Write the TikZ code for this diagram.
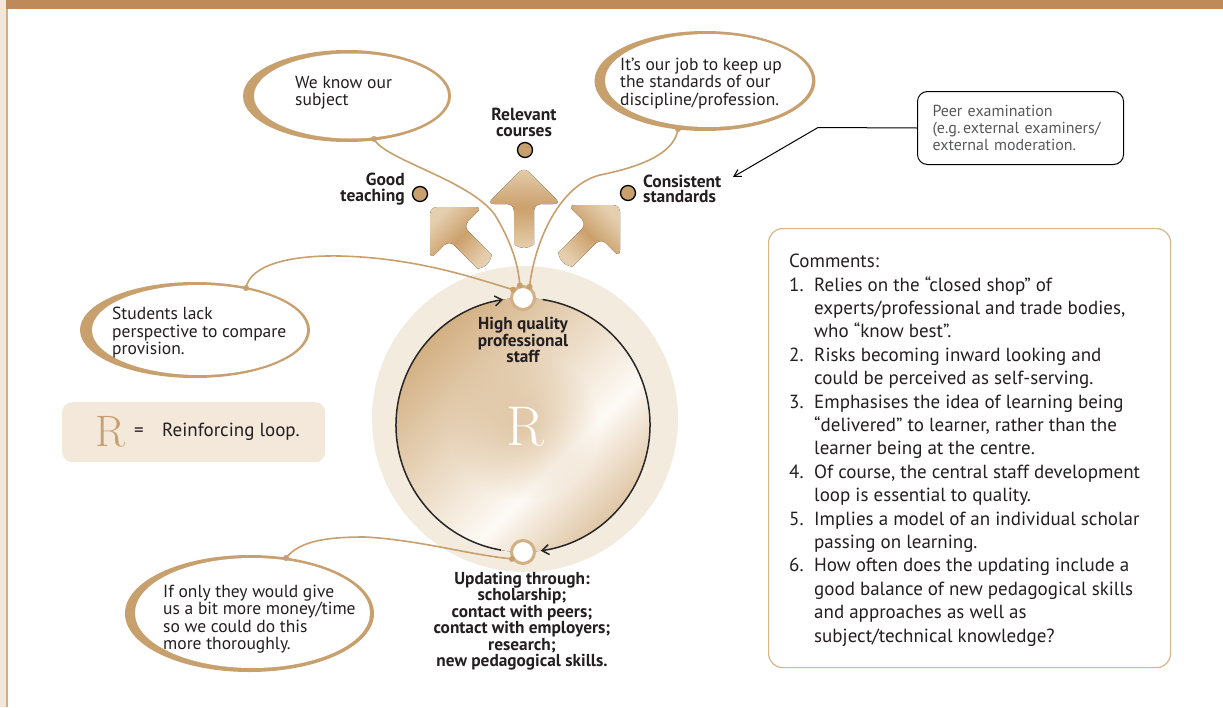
\documentclass[tikz,border=0pt]{standalone}
\usepackage{fontspec}
\newfontfamily\sansfont{PT Sans}
\usetikzlibrary{shapes.geometric,arrows.meta,fadings}

\definecolor{tan}{HTML}{C8A06E}
\definecolor{nodering}{HTML}{D3AF84}
\definecolor{barbrown}{HTML}{BE8A5A}
\definecolor{stripbeige}{HTML}{F1E7DB}
\definecolor{stripline}{HTML}{D6AD82}
\definecolor{discbeige}{HTML}{F4EBDF}
\definecolor{keybeige}{HTML}{F3E8DA}
\definecolor{boxline}{HTML}{D9B58A}
\definecolor{inkdark}{HTML}{231F20}
\definecolor{inkgrey}{HTML}{58595B}
\definecolor{arrowlight}{HTML}{E5CEAD}
\definecolor{arrowdark}{HTML}{CBA06C}
\definecolor{loopA}{HTML}{D9BA90}
\definecolor{loopB}{HTML}{D2AE80}
\definecolor{loopC}{HTML}{FDFAF5}

\pgfdeclarehorizontalshading{loopfill}{100bp}{color(0bp)=(loopA); color(24bp)=(loopB); color(60bp)=(loopC); color(82bp)=(loopB); color(100bp)=(loopA)}
\tikzfading[name=centreglow, inner color=transparent!45, outer color=transparent!100]

\newcommand\cmtnum[1]{\makebox[25pt][l]{#1}}
\newcommand\cmtind{\hspace*{25pt}}

\begin{document}
\begin{tikzpicture}[x=1pt,y=-1pt,
  bubbletext/.style={font=\sansfont\fontsize{17.5}{17.5}\selectfont, text=inkdark, align=left, inner sep=0, anchor=west},
  boldlabel/.style={font=\sansfont\bfseries\fontsize{17.5}{15.5}\selectfont, text=inkdark, inner sep=0},
  labeldot/.style={circle, fill=tan, draw=black, line width=1.3pt, minimum size=15pt, inner sep=0},
  stocknode/.style={circle, fill=white, draw=nodering, line width=3pt, minimum size=23pt, inner sep=0},
  link/.style={draw=tan, line width=1.6pt},
  fatarrow/.style={top color=arrowlight, bottom color=arrowlight, middle color=arrowdark, draw=none, rounded corners=7pt},
  looparc/.style={draw=black!85, line width=1.5pt, -{Straight Barb[length=7pt,width=10pt]}},
]
\useasboundingbox (0,0) rectangle (1223,707);
\fill[white] (0,0) rectangle (1223,707);

% page frame
\fill[stripbeige] (0,0) rectangle (6,707);
\fill[stripline] (6,8) rectangle (7.6,707);
\fill[barbrown] (6,0) rectangle (1223,8.7);

% speech bubbles: tan crescent rims
\fill[tan] (347,96) ellipse[x radius=104, y radius=46];
\fill[white] (351,96) ellipse[x radius=97, y radius=42.5];
\fill[tan] (705,81) ellipse[x radius=110.5, y radius=50];
\fill[white] (708.5,80.5) ellipse[x radius=103.5, y radius=46.5];
\fill[tan] (195,330) ellipse[x radius=115, y radius=48];
\fill[white] (199.5,330) ellipse[x radius=107.5, y radius=45];
\fill[tan] (249.5,613.5) ellipse[x radius=124.5, y radius=58.5];
\fill[white] (252.5,613) ellipse[x radius=117.5, y radius=55];

\node[bubbletext] (knowsubject) at (295,92.5) {We know our\\subject};
\node[bubbletext] (ourjob) at (620,83.5) {It’s our job to keep up\\the standards of our\\discipline/profession.};
\node[bubbletext] (studentslack) at (112,333) {Students lack\\perspective to compare\\provision.};
\node[bubbletext] (ifonly) at (163,619) {If only they would give\\us a bit more money/time\\so we could do this\\more thoroughly.};

% reinforcing loop disc
\fill[discbeige] (525,419) circle[radius=153];
\coordinate (loopc) at (523,425);
\fill[shading=loopfill, shading angle=-45] (loopc) circle[radius=127];
\fill[loopB, path fading=centreglow] (loopc) circle[radius=75];
\node[font=\fontsize{56}{56}\selectfont, text=white, inner sep=0] (bigR) at (526,427) {R};

% staff and updating stocks
\node[stocknode] (hq) at (523,298) {};
\node[stocknode] (upd) at (523,552) {};

% loop arrows (clockwise)
\draw[looparc] (loopc) ++(-81:127) arc[start angle=-81, end angle=82, radius=127];
\draw[looparc] (loopc) ++(100:127) arc[start angle=100, end angle=261, radius=127];

% outcome arrows
\begin{scope}[shift={(524,167)}]
  \fill[fatarrow] (0,0) -- (37,37) -- (10,37) -- (10,71) arc[start angle=0, end angle=180, radius=10] -- (-10,37) -- (-37,37) -- cycle;
\end{scope}
\begin{scope}[shift={(430,207)}, rotate=45]
  \fill[fatarrow, shading angle=45] (0,0) -- (37,37) -- (10,37) -- (10,71) arc[start angle=0, end angle=180, radius=10] -- (-10,37) -- (-37,37) -- cycle;
\end{scope}
\begin{scope}[shift={(620,205)}, rotate=-45]
  \fill[fatarrow, shading angle=-45] (0,0) -- (37,37) -- (10,37) -- (10,71) arc[start angle=0, end angle=180, radius=10] -- (-10,37) -- (-37,37) -- cycle;
\end{scope}

% bubble tails
\coordinate (tailA) at (374,139);
\coordinate (tailB) at (678,129);
\coordinate (tailC) at (246,288);
\coordinate (tailD) at (286,558);
\draw[link] (tailA) .. controls (385,160) and (470,180) .. (495,215) .. controls (510,240) and (518,262) .. (hq.104);
\draw[link] (tailB) .. controls (675,150) and (650,165) .. (600,175) .. controls (560,185) and (535,240) .. (hq.60);
\draw[link] (tailC) .. controls (250,265) and (290,255) .. (340,256) .. controls (420,258) and (480,280) .. (hq.140);
\draw[link] (tailD) .. controls (300,540) and (330,537) .. (365,537) .. controls (420,540) and (470,555) .. (upd.212);
\foreach \p in {tailA,tailB,tailC,tailD,hq.104,hq.60,hq.140,upd.212}
  \fill[tan] (\p) circle[radius=3];

% outcome labels
\node[labeldot] (relevantdot) at (525,150) {};
\node[labeldot] (gooddot) at (420,194) {};
\node[labeldot] (consistentdot) at (628,193) {};
\node[boldlabel, align=center] (relevant) at (524,122.5) {Relevant\\courses};
\node[boldlabel, align=right, anchor=east] (good) at (405,189) {Good\\teaching};
\node[boldlabel, align=left, anchor=west] (consistent) at (643,189) {Consistent\\standards};

\node[boldlabel, align=center, font=\sansfont\bfseries\fontsize{17.3}{15}\selectfont] (hqlabel) at (523,340) {High quality\\professional\\staff};
\node[boldlabel, align=center, font=\sansfont\bfseries\fontsize{17.3}{16.5}\selectfont] (updlabel) at (522,621) {Updating through:\\scholarship;\\contact with peers;\\contact with employers;\\research;\\new pedagogical skills.};

% peer examination note
\node[draw=black, line width=1pt, rounded corners=10pt, anchor=north west, minimum width=206pt, minimum height=73pt, text width=176pt, inner xsep=15pt, align=left, text=inkgrey, font=\sansfont\fontsize{16}{17}\selectfont] (peer) at (917,91) {Peer examination\\(e.g.\,external examiners/\\external moderation.};
\draw[black, line width=1pt, -{Straight Barb[length=7pt,width=8pt]}] (peer.west) -- (818,127.5) -- (733,177);

% key
\node[fill=keybeige, rounded corners=10pt, anchor=north west, minimum width=263pt, minimum height=60pt] (key) at (62,402) {};
\node[font=\fontsize{44}{44}\selectfont, text=tan, inner sep=0] (keyR) at (110,432) {R};
\node[font=\sansfont\fontsize{19}{19}\selectfont, text=inkdark, inner sep=0] (keyeq) at (139,432) {=};
\node[font=\sansfont\fontsize{19}{19}\selectfont, text=inkdark, inner sep=0, anchor=west] (keytext) at (162,432) {Reinforcing loop.};

% comments panel
\node[draw=boxline, line width=1.2pt, rounded corners=14pt, anchor=north west, minimum width=402pt, minimum height=439pt] (comments) at (768,228) {};
\node[font=\sansfont\fontsize{19}{23.4}\selectfont, text=inkdark, align=left, inner sep=0, anchor=north west] (commentstext) at (789,254) {%
Comments:\\
\cmtnum{1.}Relies on the “closed shop” of\\
\cmtind experts/professional and trade bodies,\\
\cmtind who “know best”.\\
\cmtnum{2.}Risks becoming inward looking and\\
\cmtind could be perceived as self-serving.\\
\cmtnum{3.}Emphasises the idea of learning being\\
\cmtind “delivered” to learner, rather than the\\
\cmtind learner being at the centre.\\
\cmtnum{4.}Of course, the central staff development\\
\cmtind loop is essential to quality.\\
\cmtnum{5.}Implies a model of an individual scholar\\
\cmtind passing on learning.\\
\cmtnum{6.}How often does the updating include a\\
\cmtind good balance of new pedagogical skills\\
\cmtind and approaches as well as\\
\cmtind subject/technical knowledge?};
\end{tikzpicture}
\end{document}
